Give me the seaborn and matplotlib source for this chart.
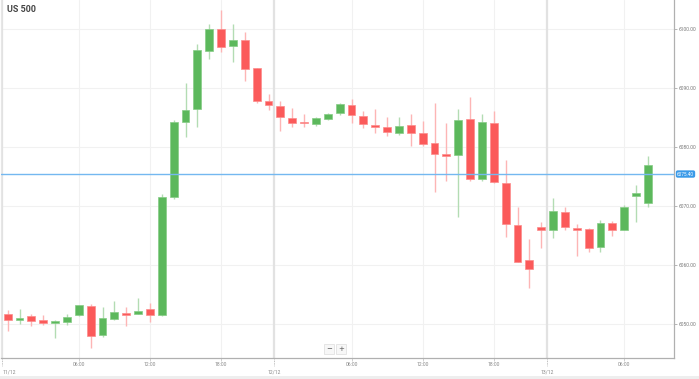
import numpy as np
import pandas as pd
import matplotlib
matplotlib.use("Agg")
import matplotlib.pyplot as plt
import matplotlib.transforms as mtransforms
from matplotlib.patches import Rectangle
import seaborn as sns

# ---------------- data ----------------
title = "US 500"
opens = [6051.8, 6050.7, 6051.4, 6050.7, 6050.2, 6050.4, 6051.5, 6053.1, 6048.2, 6050.9,
         6051.9, 6051.7, 6052.5, 6051.6, 6071.6, 6084.2, 6086.4, 6096.2, 6099.9, 6097.0,
         6098.0, 6093.3, 6087.8, 6086.9, 6084.9, 6084.2, 6083.9, 6084.7, 6085.7, 6087.1,
         6085.2, 6083.7, 6083.4, 6082.4, 6083.7, 6082.4, 6080.6, 6078.6, 6078.6, 6084.7,
         6074.6, 6084.0, 6073.8, 6066.8, 6060.8, 6066.4, 6066.0, 6068.9, 6066.3, 6066.05,
         6063.1, 6067.1, 6066.0, 6071.7, 6070.5]
highs = [6052.4, 6052.5, 6051.7, 6051.6, 6050.8, 6051.8, 6053.3, 6053.4, 6052.9, 6053.9,
         6052.9, 6054.4, 6053.6, 6072.0, 6084.6, 6090.8, 6097.4, 6100.7, 6103.2, 6100.7,
         6099.4, 6093.4, 6088.9, 6087.8, 6086.6, 6085.5, 6085.0, 6085.8, 6087.4, 6088.1,
         6086.0, 6086.4, 6085.1, 6085.1, 6085.6, 6084.3, 6087.4, 6084.0, 6086.4, 6088.4,
         6085.6, 6086.1, 6077.8, 6069.9, 6064.4, 6067.3, 6071.4, 6069.9, 6066.9, 6066.2,
         6067.6, 6067.5, 6070.2, 6073.6, 6078.4]
lows = [6048.9, 6050.1, 6049.7, 6049.9, 6047.6, 6049.8, 6051.4, 6046.0, 6047.9, 6050.7,
        6049.7, 6051.7, 6050.4, 6051.4, 6071.1, 6081.6, 6083.3, 6094.9, 6096.1, 6094.4,
        6091.2, 6087.4, 6086.2, 6082.6, 6083.3, 6083.3, 6083.6, 6084.5, 6085.3, 6084.1,
        6083.2, 6082.3, 6081.9, 6082.0, 6080.1, 6080.1, 6072.3, 6074.3, 6068.2, 6074.3,
        6074.3, 6073.8, 6064.8, 6060.5, 6056.2, 6062.9, 6064.6, 6065.9, 6061.5, 6062.3,
        6062.2, 6065.0, 6066.0, 6067.3, 6069.9]
closes = [6050.8, 6051.1, 6050.5, 6050.3, 6050.5, 6051.3, 6053.2, 6048.0, 6051.1, 6052.1,
          6051.5, 6052.3, 6051.5, 6071.5, 6084.2, 6086.3, 6096.4, 6099.9, 6096.9, 6098.1,
          6093.2, 6087.8, 6087.1, 6085.0, 6084.1, 6084.0, 6084.8, 6085.5, 6087.3, 6085.3,
          6083.8, 6083.3, 6082.5, 6083.6, 6082.3, 6080.5, 6078.8, 6078.5, 6084.6, 6074.6,
          6084.2, 6074.0, 6066.9, 6060.6, 6059.4, 6065.9, 6069.2, 6066.4, 6065.9, 6062.9,
          6067.2, 6065.9, 6069.9, 6072.2, 6076.9]
hour_tick_pos = [6, 12, 18, 29, 35, 41, 52]
hour_tick_labels = ["06:00", "12:00", "18:00", "06:00", "12:00", "18:00", "06:00"]
date_tick_pos = [-0.5, 22.5, 45.5]
date_tick_labels = ["11/12", "12/12", "13/12"]
y_ticks = [6050, 6060, 6070, 6080, 6090, 6100]
current_price = 6075.40

df = pd.DataFrame({"idx": np.arange(len(opens)), "open": opens, "high": highs,
                   "low": lows, "close": closes})
df["up"] = df["close"] >= df["open"]
df["body_bottom"] = df[["open", "close"]].min(axis=1)
df["body_height"] = (df["close"] - df["open"]).abs().clip(lower=0.25)

# ---------------- style ----------------
sns.set_theme(style="white")
plt.rcParams["font.family"] = ["Roboto", "DejaVu Sans"]

W, H = 699, 379
fig = plt.figure(figsize=(W / 100, H / 100), dpi=100)
fig.patch.set_facecolor("white")
ax = fig.add_axes([1 / W, 21 / H, 673 / W, 358 / H])
ax.set_facecolor("white")

GREEN, RED = "#5cb85c", "#fb5a5a"
GREEN_W, RED_W = "#b3dcb3", "#fdb5b5"
GREEN_E, RED_E = "#86cc86", "#fc8c8c"

# grid
for y in y_ticks:
    ax.axhline(y, color="#f1f1f1", lw=0.8, zorder=0)
for x in hour_tick_pos:
    ax.axvline(x, color="#f1f1f1", lw=0.8, zorder=0)
for x in date_tick_pos:
    ax.axvline(x, color="#e2e2e2", lw=1.6, zorder=0)

# wicks
ax.vlines(df["idx"], df["low"], df["high"],
          colors=np.where(df["up"], GREEN_W, RED_W), lw=1.0, zorder=1)
# bodies
ax.bar(df["idx"], df["body_height"], bottom=df["body_bottom"], width=0.66,
       color=np.where(df["up"], GREEN, RED),
       edgecolor=np.where(df["up"], GREEN_E, RED_E), linewidth=0.5, zorder=2)

# current price line
ax.axhline(current_price, color="#74b8f0", lw=1.0, zorder=3)

ax.set_xlim(-0.565, 56.2)
ax.set_ylim(6044.3, 6104.82)

# spines
ax.spines["top"].set_visible(False)
ax.spines["left"].set_color("#e6e6e6")
ax.spines["left"].set_linewidth(0.8)
ax.spines["right"].set_color("#b0b0b0")
ax.spines["right"].set_linewidth(0.9)
ax.spines["bottom"].set_color("#b0b0b0")
ax.spines["bottom"].set_linewidth(0.9)

# y axis on the right
ax.yaxis.tick_right()
ax.set_yticks(y_ticks)
ax.set_yticklabels([f"{v:.2f}" for v in y_ticks])
ax.tick_params(axis="y", right=True, left=False, length=2, width=0.5, color="#999999",
               labelsize=3.5, labelcolor="#777777", pad=1)

# x ticks
ax.set_xticks(hour_tick_pos)
ax.set_xticklabels([])
ax.tick_params(axis="x", bottom=True, length=2.5, width=0.5, color="#bbbbbb")

trans = mtransforms.blended_transform_factory(ax.transData, fig.transFigure)
for x, lab in zip(hour_tick_pos, hour_tick_labels):
    ax.text(x, 1 - 365 / H, lab, transform=trans, ha="center", va="center",
            fontsize=3.6, color="#888888", clip_on=False)
for i, (x, lab) in enumerate(zip(date_tick_pos, date_tick_labels)):
    ha = "left" if i == 0 else "center"
    xt = x + 0.05 if i == 0 else x
    ax.text(xt, 1 - 372.5 / H, lab, transform=trans, ha=ha, va="center",
            fontsize=3.6, color="#888888", clip_on=False)
    ax.plot([x, x], [1 - 358.5 / H, 1 - 366 / H], transform=trans, color="#aaaaaa",
            lw=0.6, ls=(0, (1, 1)), clip_on=False)

# price label
transy = mtransforms.blended_transform_factory(ax.transAxes, ax.transData)
ax.text(1.0 + 3 / 673, current_price, f"{current_price:.2f}", transform=transy,
        ha="left", va="center", fontsize=3.4, color="white", clip_on=False,
        bbox=dict(boxstyle="round,pad=0.25,rounding_size=0.4", fc="#3a9ae8", ec="none"))

# title
fig.text(7 / W, 1 - 10 / H, title, ha="left", va="center", fontsize=6.5,
         fontweight="bold", color="#444444")

# zoom buttons
for xb, sym in [(329, "\u2212"), (341, "+")]:
    fig.text(xb / W, 1 - 349 / H, sym, ha="center", va="center", fontsize=5,
             color="#555555", family=["DejaVu Sans"],
             bbox=dict(boxstyle="square,pad=0.25", fc="#f7f7f7", ec="#dddddd", lw=0.5))

# bottom strip
fig.patches.append(Rectangle((0, 0), 1, 3 / H, transform=fig.transFigure,
                             facecolor="#eeeeee", edgecolor="none", zorder=0))

fig.savefig("out.png", dpi=100)
